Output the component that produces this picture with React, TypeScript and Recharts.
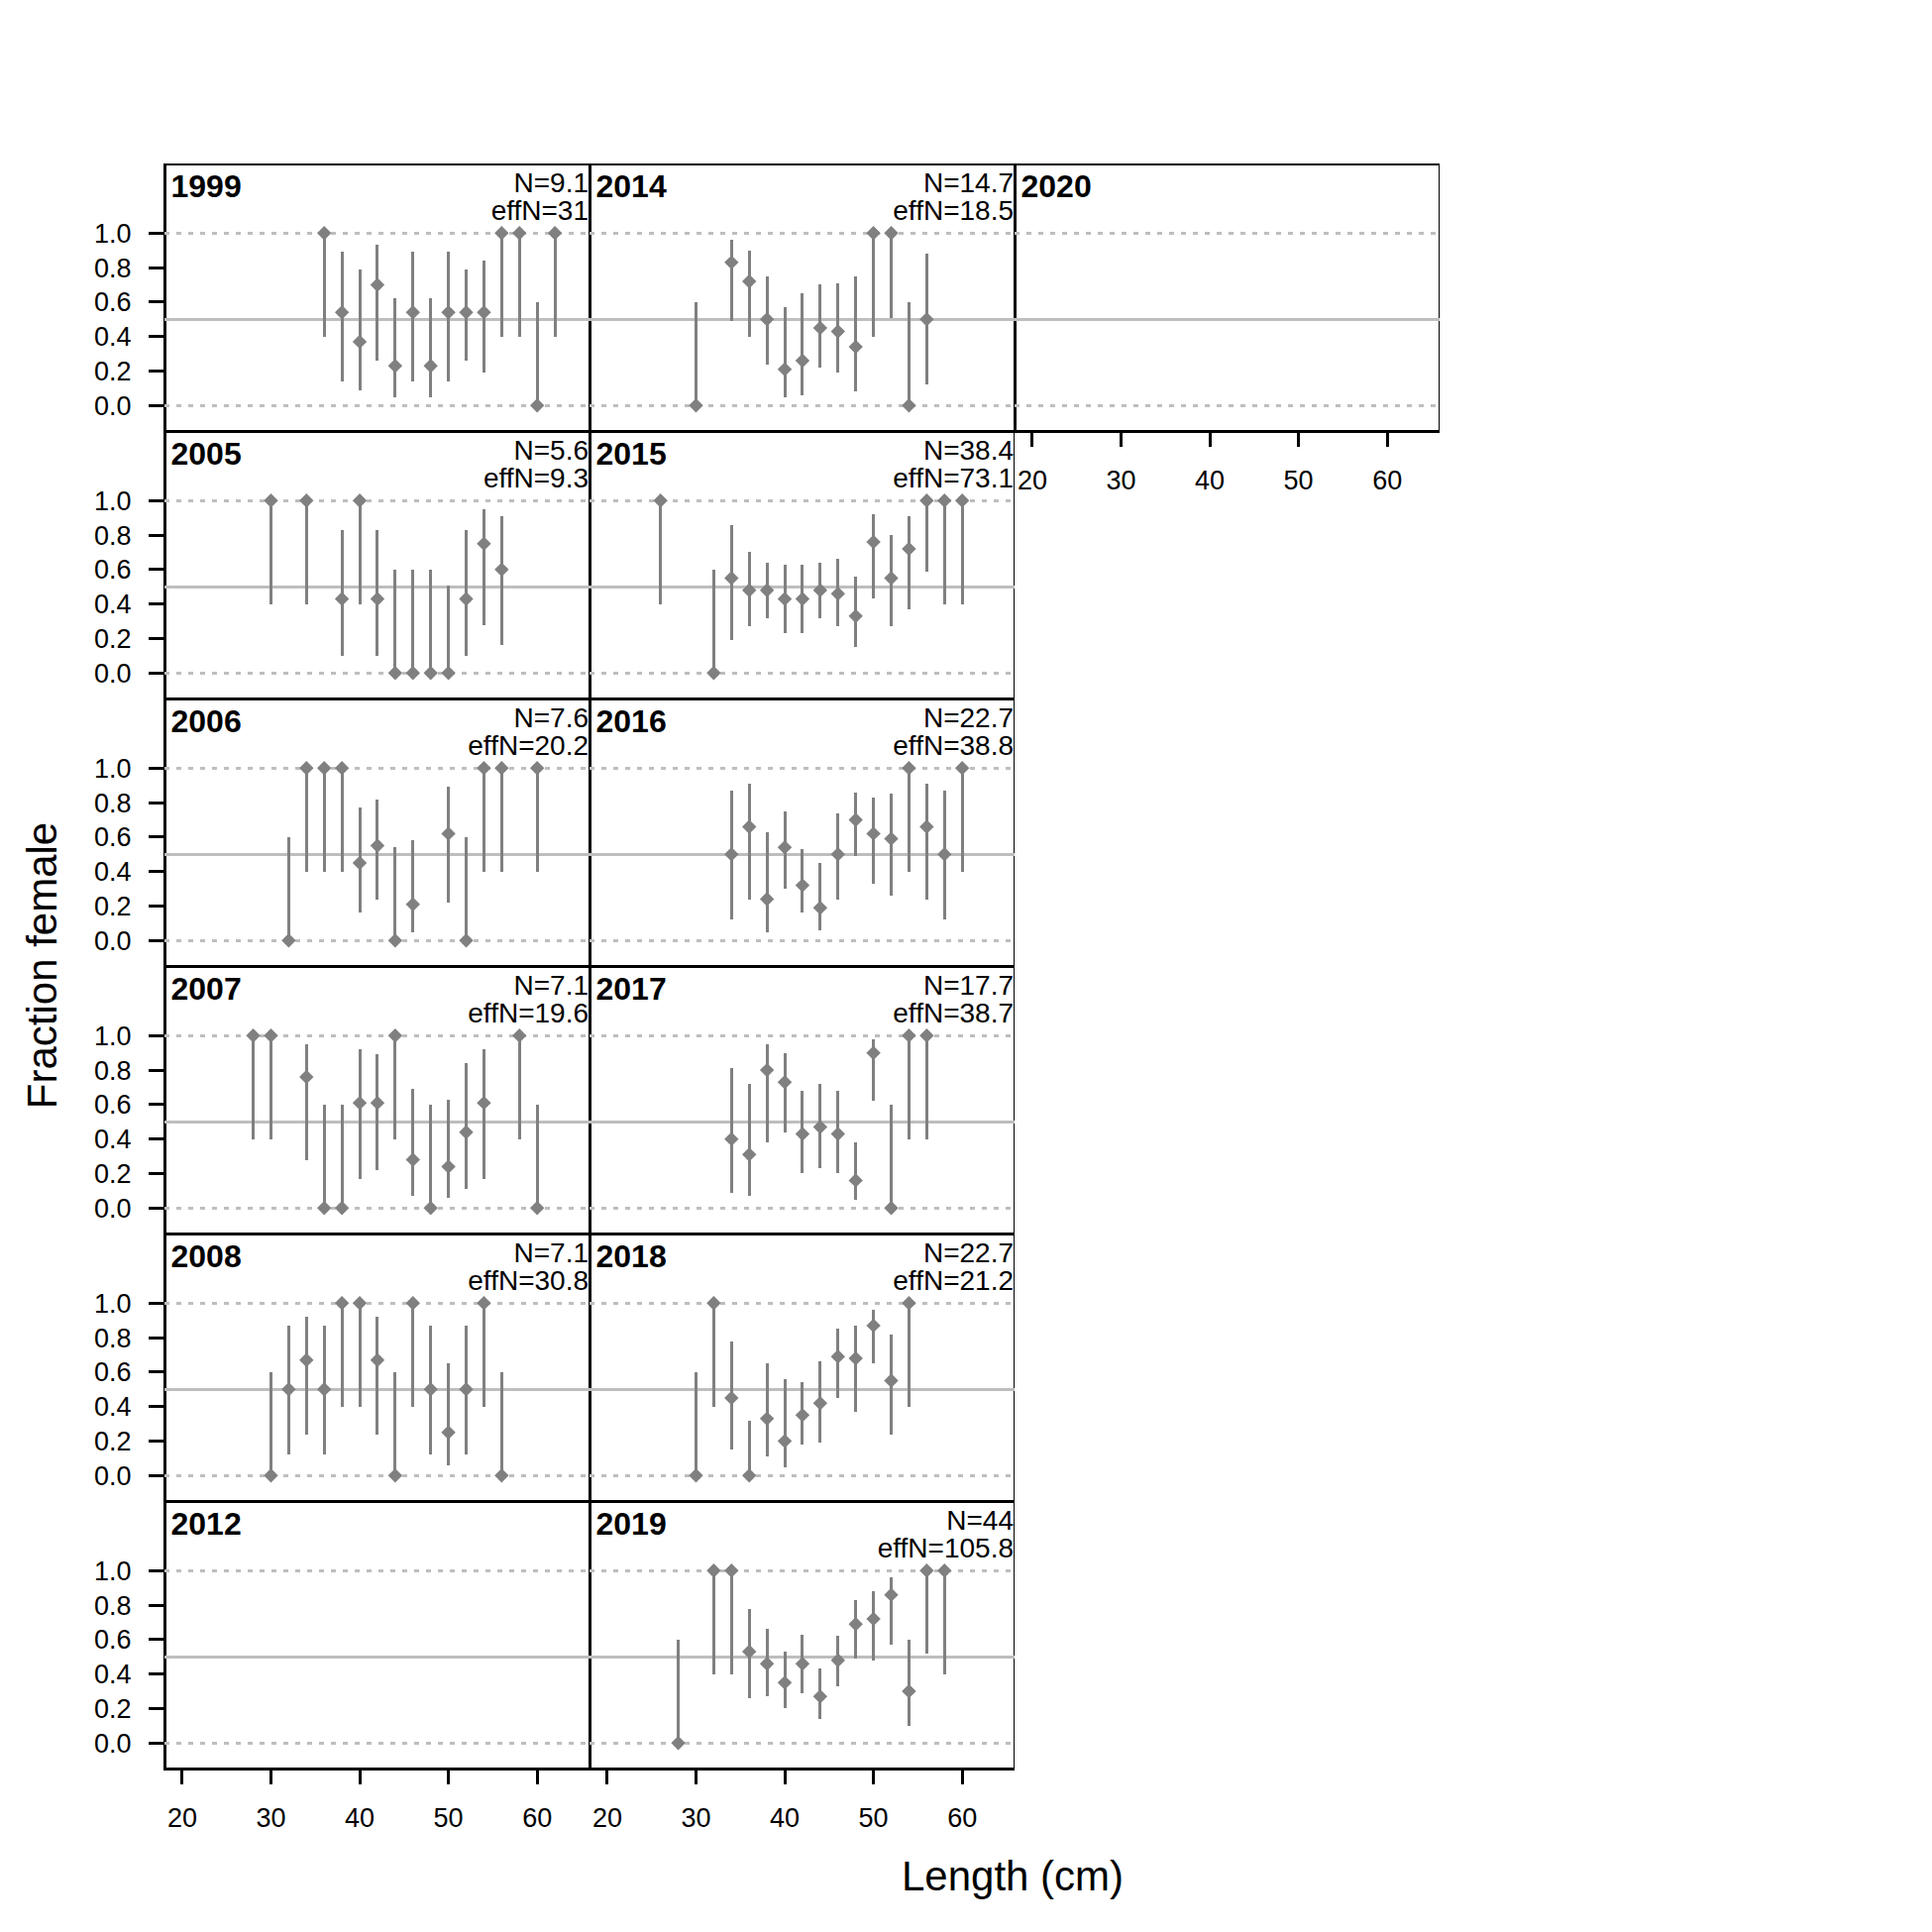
import React from 'react';
import {
  ScatterChart,
  Scatter,
  XAxis,
  YAxis,
  ErrorBar,
  ReferenceLine,
  ReferenceArea,
} from 'recharts';

// ---- data: length bins, observed fraction female and interval per year ----
const len1999 = [36, 38, 40, 42, 44, 46, 48, 50, 52, 54, 56, 58, 60, 62];
const obs1999 = [1.0, 0.54, 0.37, 0.7, 0.23, 0.54, 0.23, 0.54, 0.54, 0.54, 1.0, 1.0, 0.0, 1.0];
const lo1999 = [0.4, 0.14, 0.09, 0.26, 0.05, 0.14, 0.05, 0.14, 0.26, 0.19, 0.4, 0.4, 0.0, 0.4];
const hi1999 = [1.0, 0.89, 0.79, 0.93, 0.62, 0.89, 0.62, 0.89, 0.79, 0.84, 1.0, 1.0, 0.6, 1.0];

const len2005 = [30, 34, 38, 40, 42, 44, 46, 48, 50, 52, 54, 56];
const obs2005 = [1.0, 1.0, 0.43, 1.0, 0.43, 0.0, 0.0, 0.0, 0.0, 0.43, 0.75, 0.6];
const lo2005 = [0.4, 0.4, 0.1, 0.4, 0.1, 0.0, 0.0, 0.0, 0.0, 0.1, 0.28, 0.16];
const hi2005 = [1.0, 1.0, 0.83, 1.0, 0.83, 0.6, 0.6, 0.6, 0.51, 0.83, 0.95, 0.91];

const len2006 = [32, 34, 36, 38, 40, 42, 44, 46, 50, 52, 54, 56, 60];
const obs2006 = [0.0, 1.0, 1.0, 1.0, 0.45, 0.55, 0.0, 0.21, 0.62, 0.0, 1.0, 1.0, 1.0];
const lo2006 = [0.0, 0.4, 0.4, 0.4, 0.16, 0.24, 0.0, 0.05, 0.22, 0.0, 0.4, 0.4, 0.4];
const hi2006 = [0.6, 1.0, 1.0, 1.0, 0.77, 0.82, 0.54, 0.58, 0.89, 0.6, 1.0, 1.0, 1.0];

const len2007 = [28, 30, 34, 36, 38, 40, 42, 44, 46, 48, 50, 52, 54, 58, 60];
const obs2007 = [1.0, 1.0, 0.76, 0.0, 0.0, 0.61, 0.61, 1.0, 0.28, 0.0, 0.24, 0.44, 0.61, 1.0, 0.0];
const lo2007 = [0.4, 0.4, 0.28, 0.0, 0.0, 0.17, 0.22, 0.4, 0.07, 0.0, 0.06, 0.11, 0.17, 0.4, 0.0];
const hi2007 = [1.0, 1.0, 0.95, 0.6, 0.6, 0.92, 0.89, 1.0, 0.69, 0.6, 0.63, 0.84, 0.92, 1.0, 0.6];

const len2008 = [30, 32, 34, 36, 38, 40, 42, 44, 46, 48, 50, 52, 54, 56];
const obs2008 = [0.0, 0.5, 0.67, 0.5, 1.0, 1.0, 0.67, 0.0, 1.0, 0.5, 0.25, 0.5, 1.0, 0.0];
const lo2008 = [0.0, 0.12, 0.24, 0.12, 0.4, 0.4, 0.24, 0.0, 0.4, 0.12, 0.06, 0.12, 0.4, 0.0];
const hi2008 = [0.6, 0.87, 0.92, 0.87, 1.0, 1.0, 0.92, 0.6, 1.0, 0.87, 0.65, 0.87, 1.0, 0.6];

const len2014 = [30, 34, 36, 38, 40, 42, 44, 46, 48, 50, 52, 54, 56];
const obs2014 = [0.0, 0.83, 0.72, 0.5, 0.21, 0.26, 0.45, 0.43, 0.34, 1.0, 1.0, 0.0, 0.5];
const lo2014 = [0.0, 0.49, 0.4, 0.24, 0.05, 0.06, 0.22, 0.19, 0.08, 0.4, 0.51, 0.0, 0.12];
const hi2014 = [0.6, 0.96, 0.9, 0.75, 0.57, 0.65, 0.7, 0.71, 0.75, 1.0, 1.0, 0.6, 0.88];

const len2015 = [26, 32, 34, 36, 38, 40, 42, 44, 46, 48, 50, 52, 54, 56, 58, 60];
const obs2015 = [1.0, 0.0, 0.55, 0.48, 0.48, 0.43, 0.43, 0.48, 0.46, 0.33, 0.76, 0.55, 0.72, 1.0, 1.0, 1.0];
const lo2015 = [0.4, 0.0, 0.19, 0.27, 0.32, 0.23, 0.23, 0.32, 0.27, 0.15, 0.43, 0.27, 0.37, 0.59, 0.4, 0.4];
const hi2015 = [1.0, 0.6, 0.86, 0.7, 0.64, 0.63, 0.63, 0.64, 0.66, 0.56, 0.92, 0.8, 0.91, 1.0, 1.0, 1.0];

const len2016 = [34, 36, 38, 40, 42, 44, 46, 48, 50, 52, 54, 56, 58, 60];
const obs2016 = [0.5, 0.66, 0.24, 0.54, 0.32, 0.19, 0.5, 0.7, 0.62, 0.59, 1.0, 0.66, 0.5, 1.0];
const lo2016 = [0.12, 0.24, 0.05, 0.3, 0.16, 0.06, 0.24, 0.49, 0.33, 0.26, 0.4, 0.24, 0.12, 0.4];
const hi2016 = [0.87, 0.91, 0.63, 0.75, 0.53, 0.45, 0.74, 0.86, 0.83, 0.85, 1.0, 0.91, 0.87, 1.0];

const len2017 = [34, 36, 38, 40, 42, 44, 46, 48, 50, 52, 54, 56];
const obs2017 = [0.4, 0.31, 0.8, 0.73, 0.43, 0.47, 0.43, 0.16, 0.9, 0.0, 1.0, 1.0];
const lo2017 = [0.09, 0.07, 0.38, 0.44, 0.2, 0.23, 0.2, 0.05, 0.62, 0.0, 0.4, 0.4];
const hi2017 = [0.81, 0.72, 0.95, 0.9, 0.68, 0.72, 0.68, 0.38, 0.98, 0.6, 1.0, 1.0];

const len2018 = [30, 32, 34, 36, 38, 40, 42, 44, 46, 48, 50, 52, 54];
const obs2018 = [0.0, 1.0, 0.45, 0.0, 0.33, 0.2, 0.35, 0.42, 0.69, 0.68, 0.87, 0.55, 1.0];
const lo2018 = [0.0, 0.4, 0.15, 0.0, 0.11, 0.05, 0.18, 0.19, 0.45, 0.37, 0.65, 0.24, 0.4];
const hi2018 = [0.6, 1.0, 0.78, 0.32, 0.65, 0.56, 0.54, 0.66, 0.85, 0.87, 0.96, 0.82, 1.0];

const len2019 = [28, 32, 34, 36, 38, 40, 42, 44, 46, 48, 50, 52, 54, 56, 58];
const obs2019 = [0.0, 1.0, 1.0, 0.53, 0.46, 0.35, 0.46, 0.27, 0.48, 0.69, 0.72, 0.86, 0.3, 1.0, 1.0];
const lo2019 = [0.0, 0.4, 0.4, 0.26, 0.27, 0.2, 0.29, 0.14, 0.33, 0.49, 0.48, 0.57, 0.1, 0.52, 0.4];
const hi2019 = [0.6, 1.0, 1.0, 0.78, 0.66, 0.53, 0.63, 0.43, 0.62, 0.83, 0.88, 0.96, 0.6, 1.0, 1.0];

const xTicks = [20, 30, 40, 50, 60];
const yTicks = [0, 0.2, 0.4, 0.6, 0.8, 1.0];

// ---- layout ----
const FONT = '"Liberation Sans", Arial, Helvetica, sans-serif';
const PANEL_X = [165.5, 594.5, 1023.5];
const PANEL_Y0 = 164.5;
const PANEL_W = 429;
const PANEL_H = 270;
const Y_AXIS_W = 120;
const X_AXIS_H = 80;
const X_DOMAIN: [number, number] = [18, 65.9];
const Y_DOMAIN: [number, number] = [-0.148, 1.404];
const GREY = '#808080';
const REF = '#bebebe';

interface Pt {
  x: number;
  y: number;
  err: [number, number];
}

const toPoints = (len: number[], obs: number[], lo: number[], hi: number[]): Pt[] =>
  len.map((x, i) => ({ x, y: obs[i], err: [obs[i] - lo[i], hi[i] - obs[i]] }));

interface PanelDef {
  year: string;
  n?: string;
  effN?: string;
  points: Pt[];
  col: number;
  row: number;
  showY: boolean;
  showX: boolean;
}

const panels: PanelDef[] = [
  { year: '1999', n: 'N=9.1', effN: 'effN=31', points: toPoints(len1999, obs1999, lo1999, hi1999), col: 0, row: 0, showY: true, showX: false },
  { year: '2005', n: 'N=5.6', effN: 'effN=9.3', points: toPoints(len2005, obs2005, lo2005, hi2005), col: 0, row: 1, showY: true, showX: false },
  { year: '2006', n: 'N=7.6', effN: 'effN=20.2', points: toPoints(len2006, obs2006, lo2006, hi2006), col: 0, row: 2, showY: true, showX: false },
  { year: '2007', n: 'N=7.1', effN: 'effN=19.6', points: toPoints(len2007, obs2007, lo2007, hi2007), col: 0, row: 3, showY: true, showX: false },
  { year: '2008', n: 'N=7.1', effN: 'effN=30.8', points: toPoints(len2008, obs2008, lo2008, hi2008), col: 0, row: 4, showY: true, showX: false },
  { year: '2012', points: [], col: 0, row: 5, showY: true, showX: true },
  { year: '2014', n: 'N=14.7', effN: 'effN=18.5', points: toPoints(len2014, obs2014, lo2014, hi2014), col: 1, row: 0, showY: false, showX: false },
  { year: '2015', n: 'N=38.4', effN: 'effN=73.1', points: toPoints(len2015, obs2015, lo2015, hi2015), col: 1, row: 1, showY: false, showX: false },
  { year: '2016', n: 'N=22.7', effN: 'effN=38.8', points: toPoints(len2016, obs2016, lo2016, hi2016), col: 1, row: 2, showY: false, showX: false },
  { year: '2017', n: 'N=17.7', effN: 'effN=38.7', points: toPoints(len2017, obs2017, lo2017, hi2017), col: 1, row: 3, showY: false, showX: false },
  { year: '2018', n: 'N=22.7', effN: 'effN=21.2', points: toPoints(len2018, obs2018, lo2018, hi2018), col: 1, row: 4, showY: false, showX: false },
  { year: '2019', n: 'N=44', effN: 'effN=105.8', points: toPoints(len2019, obs2019, lo2019, hi2019), col: 1, row: 5, showY: false, showX: true },
  { year: '2020', points: [], col: 2, row: 0, showY: false, showX: true },
];

// filled diamond like R's pch 18
const Diamond = (props: { cx?: number; cy?: number }) => {
  const { cx = 0, cy = 0 } = props;
  const r = 7.2;
  return <path d={`M${cx},${cy - r}L${cx + r},${cy}L${cx},${cy + r}L${cx - r},${cy}Z`} fill={GREY} />;
};

const Panel = ({ p }: { p: PanelDef }) => {
  const left = PANEL_X[p.col] - (p.showY ? Y_AXIS_W : 0);
  const top = PANEL_Y0 + p.row * PANEL_H;
  const width = PANEL_W + (p.showY ? Y_AXIS_W : 0);
  const height = PANEL_H + (p.showX ? X_AXIS_H : 0);
  return (
    <div style={{ position: 'absolute', left, top }}>
      <ScatterChart width={width} height={height} margin={{ top: 0, right: 0, bottom: 0, left: 0 }}>
        <XAxis
          type="number"
          dataKey="x"
          domain={X_DOMAIN}
          allowDataOverflow
          ticks={xTicks}
          interval={0}
          hide={!p.showX}
          height={X_AXIS_H}
          axisLine={false}
          tickSize={16}
          tickMargin={24}
          tickLine={{ stroke: '#000', strokeWidth: 3, shapeRendering: 'crispEdges' }}
          tick={{ fontSize: 27, fill: '#000', fontFamily: FONT }}
        />
        <YAxis
          type="number"
          dataKey="y"
          domain={Y_DOMAIN}
          allowDataOverflow
          ticks={yTicks}
          interval={0}
          hide={!p.showY}
          width={Y_AXIS_W}
          axisLine={false}
          tickSize={16}
          tickMargin={17.5}
          tickFormatter={(v: number) => v.toFixed(1)}
          tickLine={{ stroke: '#000', strokeWidth: 3, shapeRendering: 'crispEdges' }}
          tick={{ fontSize: 27, fill: '#000', fontFamily: FONT }}
        />
        <ReferenceLine y={1} stroke={REF} strokeWidth={3} strokeDasharray="4.5 7.5" shapeRendering="crispEdges" />
        <ReferenceLine y={0} stroke={REF} strokeWidth={3} strokeDasharray="4.5 7.5" shapeRendering="crispEdges" />
        <ReferenceLine y={0.5} stroke={REF} strokeWidth={3} shapeRendering="crispEdges" />
        <Scatter data={p.points} fill={GREY} shape={Diamond} isAnimationActive={false}>
          <ErrorBar
            dataKey="err"
            direction="y"
            width={0}
            stroke={GREY}
            strokeWidth={3}
            shapeRendering="crispEdges"
            isAnimationActive={false}
          />
        </Scatter>
        <ReferenceArea
          x1={X_DOMAIN[0]}
          x2={X_DOMAIN[1]}
          y1={Y_DOMAIN[0]}
          y2={Y_DOMAIN[1]}
          fill="none"
          fillOpacity={0}
          stroke="#000"
          strokeWidth={3}
          strokeOpacity={1}
          shapeRendering="crispEdges"
          ifOverflow="visible"
        />
      </ScatterChart>
    </div>
  );
};

export default function App() {
  return (
    <div style={{ position: 'absolute', left: 0, top: 0, width: 1950, height: 1950, background: '#fff' }}>
      {panels.map((p) => (
        <Panel key={p.year} p={p} />
      ))}
      <svg
        width={1950}
        height={1950}
        style={{ position: 'absolute', left: 0, top: 0, pointerEvents: 'none' }}
        fontFamily={FONT}
      >
        {panels.map((p) => {
          const x0 = PANEL_X[p.col];
          const y0 = PANEL_Y0 + p.row * PANEL_H;
          return (
            <g key={p.year}>
              <text x={x0 + 7} y={y0 + 34} fontSize={32} fontWeight="bold" fill="#000">
                {p.year}
              </text>
              {p.n && (
                <text x={x0 + PANEL_W - 0.5} y={y0 + 29} fontSize={28} textAnchor="end" fill="#000">
                  {p.n}
                </text>
              )}
              {p.effN && (
                <text x={x0 + PANEL_W - 0.5} y={y0 + 57} fontSize={28} textAnchor="end" fill="#000">
                  {p.effN}
                </text>
              )}
            </g>
          );
        })}
        <text x={1022} y={1908} fontSize={42} textAnchor="middle" fill="#000">
          Length (cm)
        </text>
        <text transform="translate(57,974.5) rotate(-90)" fontSize={42} textAnchor="middle" fill="#000">
          Fraction female
        </text>
      </svg>
    </div>
  );
}
